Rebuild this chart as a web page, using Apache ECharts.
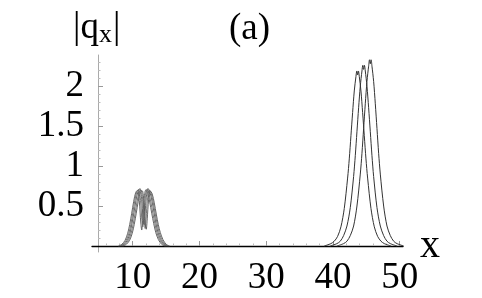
<!DOCTYPE html>
<html>
<head>
<meta charset="utf-8">
<script src="https://cdn.jsdelivr.net/npm/echarts@6/dist/echarts.min.js"></script>
<style>html,body{margin:0;padding:0;background:#fff;}#c{width:482px;height:298px;}</style>
</head>
<body>
<div id="c"></div>
<script>
// Tick labels
const xTickValues = [10, 20, 30, 40, 50];
const xMinorTicks = [6, 8, 12, 14, 16, 18, 22, 24, 26, 28, 32, 34, 36, 38, 42, 44, 46, 48];
const yTickValues = [0.5, 1, 1.5, 2];
const yMinorTicks = [0.1, 0.2, 0.3, 0.4, 0.6, 0.7, 0.8, 0.9, 1.1, 1.2, 1.3, 1.4, 1.6, 1.7, 1.8, 1.9, 2.1, 2.2, 2.3];

// Left bundle (grey, double-peaked)
const left1X = [7.85, 8.35, 8.85, 9.25, 9.55, 9.85, 10.15, 10.45, 10.75, 11.00, 11.20, 11.35, 11.50, 11.70, 11.95, 12.25, 12.55, 12.85, 13.15, 13.45, 13.85, 14.35, 14.85];
const left1Y = [0, 0.02, 0.07, 0.16, 0.27, 0.41, 0.56, 0.67, 0.70, 0.55, 0.30, 0.20, 0.34, 0.58, 0.70, 0.66, 0.55, 0.41, 0.28, 0.17, 0.08, 0.02, 0];
const left2X = [8.02, 8.52, 9.02, 9.42, 9.72, 10.02, 10.32, 10.62, 10.92, 11.17, 11.37, 11.52, 11.67, 11.87, 12.12, 12.42, 12.72, 13.02, 13.32, 13.62, 14.02, 14.52, 15.02];
const left2Y = [0, 0.02, 0.07, 0.16, 0.27, 0.42, 0.57, 0.68, 0.71, 0.57, 0.33, 0.24, 0.37, 0.60, 0.71, 0.66, 0.55, 0.41, 0.28, 0.17, 0.08, 0.02, 0];
const left3X = [8.19, 8.69, 9.19, 9.59, 9.89, 10.19, 10.49, 10.79, 11.09, 11.34, 11.54, 11.69, 11.84, 12.04, 12.29, 12.59, 12.89, 13.19, 13.49, 13.79, 14.19, 14.69, 15.19];
const left3Y = [0, 0.02, 0.07, 0.16, 0.28, 0.42, 0.57, 0.68, 0.72, 0.58, 0.36, 0.27, 0.40, 0.61, 0.72, 0.67, 0.56, 0.42, 0.28, 0.17, 0.08, 0.02, 0];
const left4X = [8.36, 8.86, 9.36, 9.76, 10.06, 10.36, 10.66, 10.96, 11.26, 11.51, 11.71, 11.86, 12.01, 12.21, 12.46, 12.76, 13.06, 13.36, 13.66, 13.96, 14.36, 14.86, 15.36];
const left4Y = [0, 0.02, 0.07, 0.16, 0.27, 0.41, 0.56, 0.67, 0.70, 0.56, 0.32, 0.22, 0.35, 0.59, 0.70, 0.66, 0.55, 0.41, 0.28, 0.17, 0.08, 0.02, 0];
const left5X = [8.53, 9.03, 9.53, 9.93, 10.23, 10.53, 10.83, 11.13, 11.43, 11.68, 11.88, 12.03, 12.18, 12.38, 12.63, 12.93, 13.23, 13.53, 13.83, 14.13, 14.53, 15.03, 15.53];
const left5Y = [0, 0.02, 0.07, 0.16, 0.27, 0.41, 0.56, 0.67, 0.69, 0.55, 0.31, 0.21, 0.34, 0.58, 0.69, 0.65, 0.54, 0.40, 0.27, 0.17, 0.08, 0.02, 0];

// Right group (three dark thin peaks)
const right1X = [38.7, 39.7, 40.2, 40.7, 41.2, 41.7, 42.2, 42.45, 42.7, 42.95, 43.2, 43.45, 43.58, 43.7, 43.82, 43.95, 44.2, 44.45, 44.7, 44.95, 45.2, 45.7, 46.2, 46.7, 47.2, 47.7, 48.7];
const right1Y = [0, 0.03, 0.06, 0.12, 0.24, 0.47, 0.85, 1.09, 1.38, 1.67, 1.94, 2.12, 2.19, 2.14, 2.19, 2.12, 1.94, 1.67, 1.38, 1.09, 0.85, 0.47, 0.24, 0.12, 0.06, 0.03, 0];
const right2X = [39.6, 40.6, 41.1, 41.6, 42.1, 42.6, 43.1, 43.35, 43.6, 43.85, 44.1, 44.35, 44.48, 44.6, 44.72, 44.85, 45.1, 45.35, 45.6, 45.85, 46.1, 46.6, 47.1, 47.6, 48.1, 48.6, 49.6];
const right2Y = [0, 0.03, 0.06, 0.13, 0.25, 0.48, 0.87, 1.13, 1.43, 1.73, 2.0, 2.19, 2.26, 2.21, 2.26, 2.19, 2.0, 1.73, 1.43, 1.13, 0.87, 0.48, 0.25, 0.13, 0.06, 0.03, 0];
const right3X = [40.6, 41.6, 42.1, 42.6, 43.1, 43.6, 44.1, 44.35, 44.6, 44.85, 45.1, 45.35, 45.48, 45.6, 45.72, 45.85, 46.1, 46.35, 46.6, 46.85, 47.1, 47.6, 48.1, 48.6, 49.1, 49.6, 50.6];
const right3Y = [0, 0.03, 0.06, 0.13, 0.25, 0.5, 0.9, 1.16, 1.47, 1.78, 2.06, 2.25, 2.33, 2.28, 2.33, 2.25, 2.06, 1.78, 1.47, 1.16, 0.9, 0.5, 0.25, 0.13, 0.06, 0.03, 0];

const zip = (xs, ys) => xs.map((x, i) => [x, ys[i]]);
const FONT = '"Liberation Serif", "DejaVu Serif", serif';

function lineSeries(xs, ys, color, width) {
  return {
    type: 'line', data: zip(xs, ys), showSymbol: false, smooth: 0.3,
    lineStyle: { color: color, width: width }, silent: true, animation: false, z: 3
  };
}

// Axis frame: x axis runs from 3.9, y axis crosses it at x = 4.8; y axis dips to -0.075.
const X_MIN = 3.9, X_MAX = 50.5, X_CROSS = 4.8;
const Y_MIN = -0.075, Y_MAX = 2.39;

const chart = echarts.init(document.getElementById('c'), null, { renderer: 'canvas' });
chart.setOption({
  animation: false,
  backgroundColor: '#fff',
  grid: { left: 92, top: 55, width: 311, height: 197, containLabel: false },
  xAxis: [{
    type: 'value', min: X_MIN, max: X_MAX,
    axisLine: { onZero: true, lineStyle: { color: '#000', width: 1.3 } },
    axisTick: { inside: true, length: 5, lineStyle: { color: '#999' }, customValues: xTickValues },
    axisLabel: { customValues: xTickValues, fontFamily: FONT, fontSize: 37, color: '#000', margin: 8 },
    splitLine: { show: false }
  }, {
    type: 'value', min: X_MIN, max: X_MAX, position: 'bottom',
    axisLine: { show: false, onZero: true },
    axisTick: { inside: true, length: 2.5, lineStyle: { color: '#bbb' }, customValues: xMinorTicks },
    axisLabel: { show: false }, splitLine: { show: false }
  }, {
    // reference axis whose zero sits at x = 4.8, used to place the y axis line
    type: 'value', min: X_MIN - X_CROSS, max: X_MAX - X_CROSS, show: false,
    axisLine: { onZero: false }, splitLine: { show: false }
  }],
  yAxis: [{
    type: 'value', min: Y_MIN, max: Y_MAX,
    axisLine: { onZero: true, onZeroAxisIndex: 2, lineStyle: { color: '#aaa', width: 1 } },
    axisTick: { inside: true, length: 5, lineStyle: { color: '#999' }, customValues: yTickValues },
    axisLabel: { customValues: yTickValues, fontFamily: FONT, fontSize: 37, color: '#000', margin: 8 },
    splitLine: { show: false }
  }, {
    type: 'value', min: Y_MIN, max: Y_MAX, position: 'left',
    axisLine: { show: false, onZero: true, onZeroAxisIndex: 2 },
    axisTick: { inside: true, length: 2.5, lineStyle: { color: '#bbb' }, customValues: yMinorTicks },
    axisLabel: { show: false }, splitLine: { show: false }
  }],
  graphic: [
    { type: 'text', left: 73, top: 10, style: {
        text: '{a||q}{s|x}{a||}', fontFamily: FONT, fill: '#000',
        rich: { a: { fontSize: 37, fontFamily: FONT }, s: { fontSize: 26, fontFamily: FONT, padding: [14, 1, 0, 0] } } } },
    { type: 'text', left: 229, top: 11, style: { text: '(a)', fontFamily: FONT, fontSize: 37, fill: '#000' } },
    { type: 'text', left: 420, top: 226, style: { text: 'x', fontFamily: FONT, fontSize: 40, fill: '#000' } }
  ],
  series: [
    lineSeries(left1X, left1Y, '#555', 0.9),
    lineSeries(left2X, left2Y, '#666', 0.9),
    lineSeries(left3X, left3Y, '#555', 0.9),
    lineSeries(left4X, left4Y, '#666', 0.9),
    lineSeries(left5X, left5Y, '#555', 0.9),
    lineSeries(right1X, right1Y, '#333', 1),
    lineSeries(right2X, right2Y, '#333', 1),
    lineSeries(right3X, right3Y, '#333', 1)
  ]
});
</script>
</body>
</html>
